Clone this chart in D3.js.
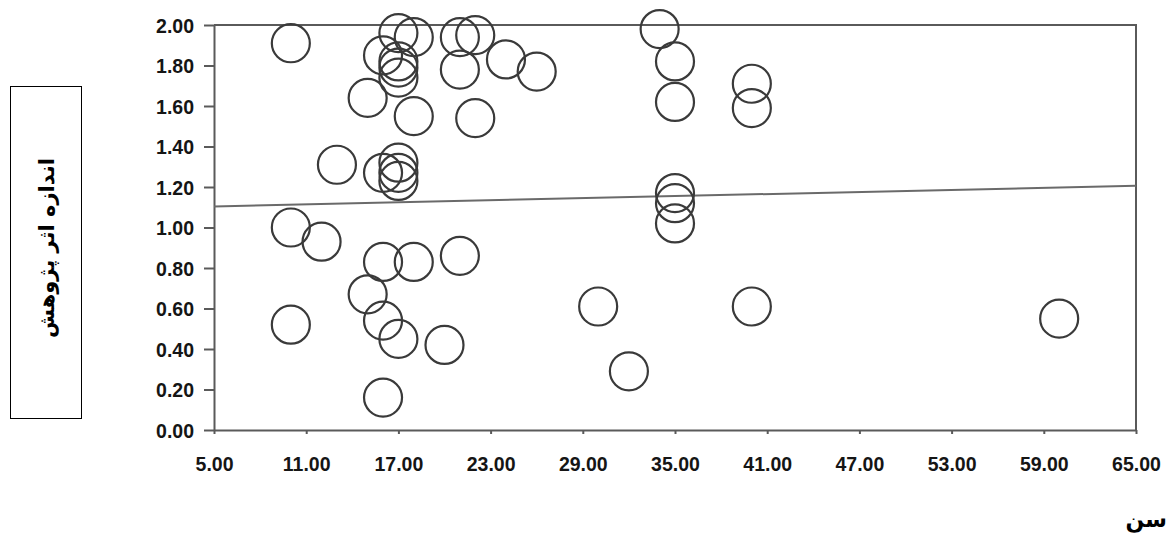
<!DOCTYPE html>
<html>
<head>
<meta charset="utf-8">
<script src="https://cdn.jsdelivr.net/npm/d3@7"></script>
<style>
  body { margin: 0; background: #fff; }
  .tick-label { font-family: "Liberation Sans", Arial, sans-serif; font-weight: bold; font-size: 19.5px; fill: #151515; }
  .fa-title { font-family: "DejaVu Sans", sans-serif; font-weight: bold; fill: #000; }
</style>
</head>
<body>
<svg id="chart" width="1171" height="537"></svg>
<script>
// Data ////////////////////////////////////////////////////////////////

var ages =    [10, 10, 10, 12, 13, 15, 15, 16, 16, 16, 16, 16,
               17, 17, 17, 17, 17, 17, 17, 17, 18, 18, 18, 20,
               21, 21, 21, 22, 22, 24, 26, 30, 32, 34,
               35, 35, 35, 35, 35, 40, 40, 40, 60];
var effects = [1.91, 1.00, 0.52, 0.93, 1.31, 1.64, 0.67, 1.85, 1.27, 0.83, 0.54, 0.16,
               1.96, 1.82, 1.79, 1.74, 1.32, 1.27, 1.23, 0.45, 1.94, 1.55, 0.83, 0.42,
               1.94, 1.78, 0.86, 1.95, 1.54, 1.83, 1.77, 0.61, 0.29, 1.98,
               1.82, 1.62, 1.17, 1.12, 1.02, 1.71, 1.59, 0.61, 0.55];

var xTicks = [5, 11, 17, 23, 29, 35, 41, 47, 53, 59, 65];
var yTicks = [0, 0.2, 0.4, 0.6, 0.8, 1.0, 1.2, 1.4, 1.6, 1.8, 2.0];

// fitted line at both ends of the axis
var fitX = [5, 65];
var fitY = [1.104, 1.206];

var yTitle = "اندازه اثر پژوهش";
var xTitle = "سن";

// Chart ////////////////////////////////////////////////////////////////

var margin = {top: 25, left: 214};
var width = 922;
var height = 405;

var svg = d3.select("#chart");
var plot = svg.append("g")
    .attr("transform", "translate(" + margin.left + "," + margin.top + ")");

var scaleX = d3.scaleLinear().domain([5, 65]).range([0, width]);
var scaleY = d3.scaleLinear().domain([0, 2]).range([height, 0]);

// frame (top and right)
plot.append("path")
    .attr("d", "M0,0H" + width + "V" + height)
    .attr("fill", "none")
    .attr("stroke", "#5a5a5a")
    .attr("stroke-width", 2);

// x axis
var xAxis = plot.append("g")
    .attr("transform", "translate(0," + height + ")")
    .call(d3.axisBottom(scaleX).tickValues(xTicks).tickSize(4).tickSizeOuter(0)
        .tickFormat(function(d) { return d.toFixed(2) }));

// y axis
var yAxis = plot.append("g")
    .call(d3.axisLeft(scaleY).tickValues(yTicks).tickSize(10).tickSizeOuter(0)
        .tickFormat(function(d) { return d.toFixed(2) }));

[xAxis, yAxis].forEach(function(ax) {
    ax.select(".domain").attr("stroke", "#5a5a5a").attr("stroke-width", 2);
    ax.selectAll(".tick line").attr("stroke", "#5a5a5a").attr("stroke-width", 2);
    ax.selectAll(".tick text").attr("class", "tick-label").attr("fill", null);
});
xAxis.selectAll(".tick text").attr("y", 41).attr("dy", 0);
yAxis.selectAll(".tick text").attr("x", -20).attr("dy", "0.36em");

// fitted line
plot.append("line")
    .attr("x1", scaleX(fitX[0]))
    .attr("y1", scaleY(fitY[0]))
    .attr("x2", scaleX(fitX[1]))
    .attr("y2", scaleY(fitY[1]))
    .attr("stroke", "#6a6a6a")
    .attr("stroke-width", 2);

// points
plot.selectAll(".point")
    .data(ages)
    .enter()
    .append("circle")
        .attr("class", "point")
        .attr("cx", function(d) { return scaleX(d) })
        .attr("cy", function(d, i) { return scaleY(effects[i]) })
        .attr("r", 19)
        .attr("fill", "none")
        .attr("stroke", "#3a3a3a")
        .attr("stroke-width", 2.2);

// y title in a box
svg.append("rect")
    .attr("x", 10.5)
    .attr("y", 86.5)
    .attr("width", 71)
    .attr("height", 332)
    .attr("fill", "none")
    .attr("stroke", "#000")
    .attr("stroke-width", 1);

svg.append("text")
    .attr("class", "fa-title")
    .attr("transform", "translate(54,248) rotate(-90)")
    .attr("text-anchor", "middle")
    .attr("direction", "rtl")
    .style("font-size", "21px")
    .text(yTitle);

// x title
svg.append("text")
    .attr("class", "fa-title")
    .attr("x", 1167)
    .attr("y", 527)
    .attr("text-anchor", "end")
    .style("font-size", "22px")
    .text(xTitle);
</script>
</body>
</html>
